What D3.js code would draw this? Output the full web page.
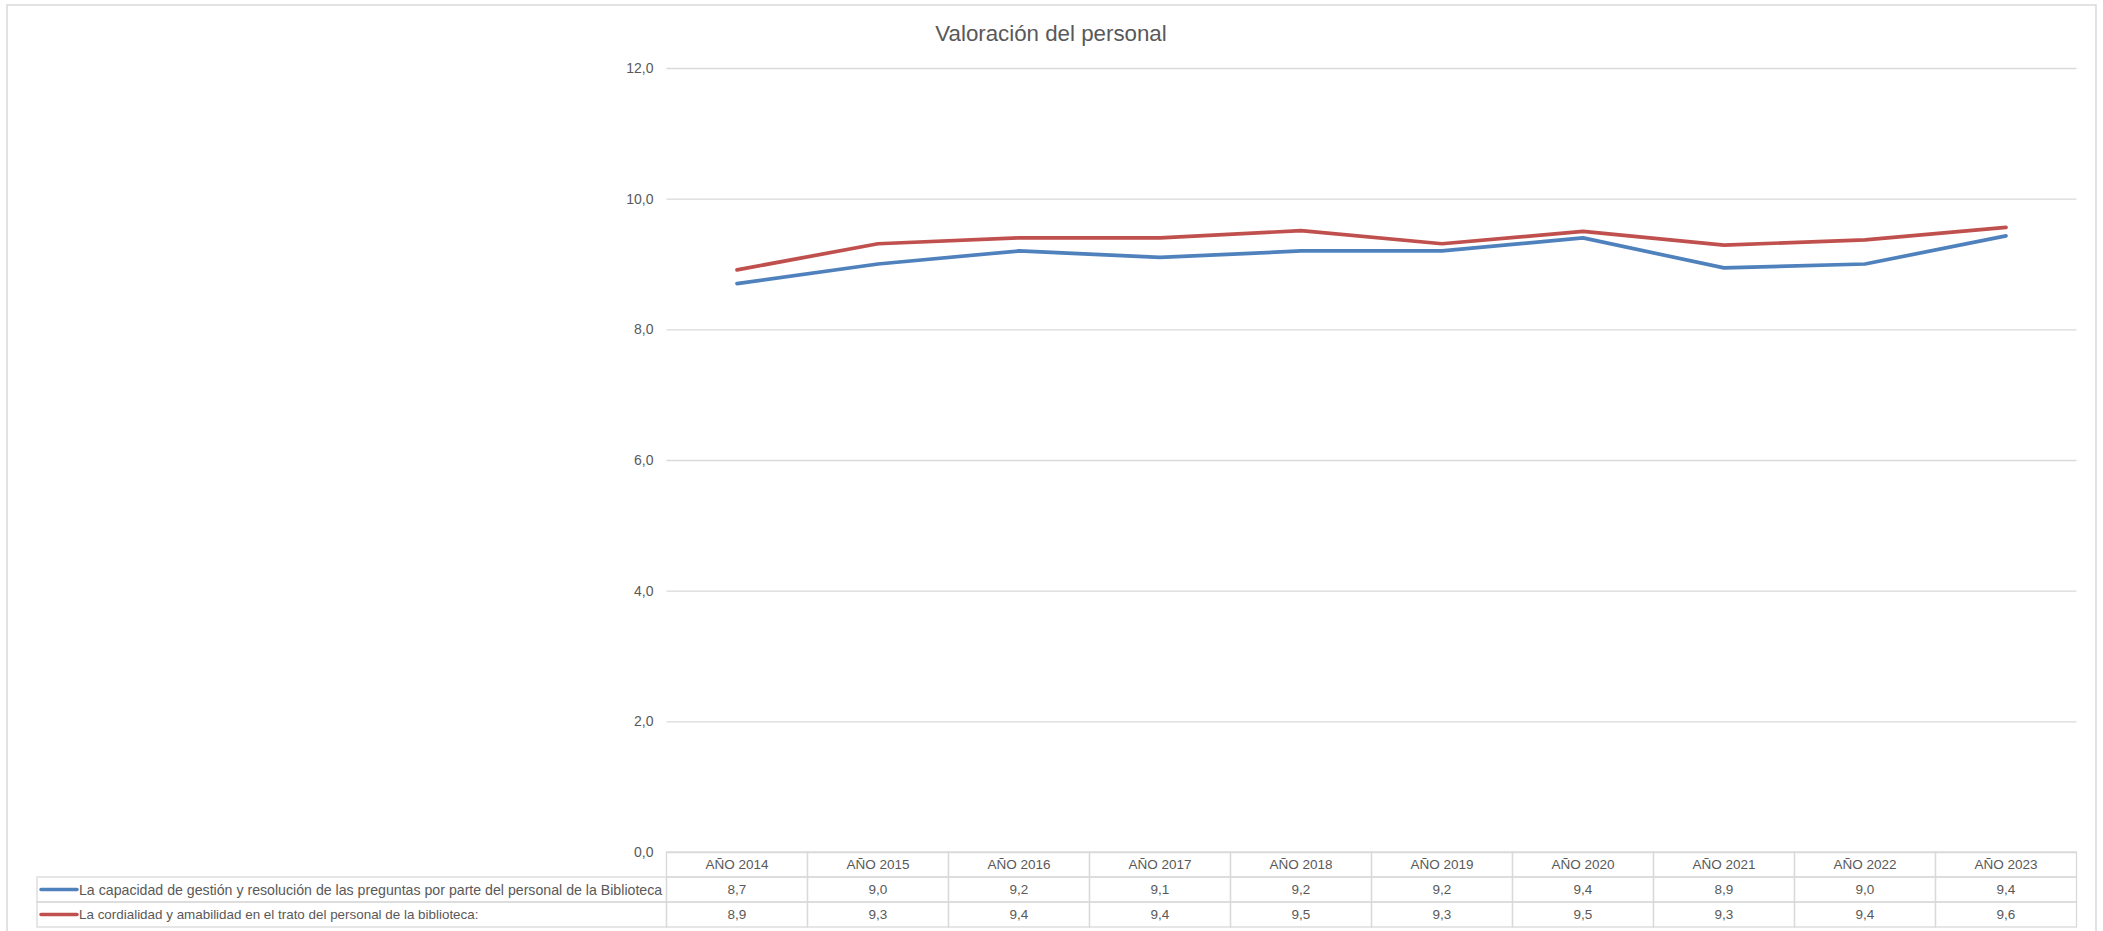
<!DOCTYPE html>
<html>
<head>
<meta charset="utf-8">
<script src="https://cdn.jsdelivr.net/npm/d3@7"></script>
<style>
  html, body { margin: 0; padding: 0; background: #fff; }
  svg { display: block; font-family: "Liberation Sans", Arial, sans-serif; }
</style>
</head>
<body>
<svg id="chart" width="2103" height="931"></svg>
<script>
// ---- data ----
const title = "Valoración del personal";
const categories = ["AÑO 2014","AÑO 2015","AÑO 2016","AÑO 2017","AÑO 2018","AÑO 2019","AÑO 2020","AÑO 2021","AÑO 2022","AÑO 2023"];
const seriesNames = [
  "La capacidad de gestión y resolución de las preguntas por parte del personal de la Biblioteca",
  "La cordialidad y amabilidad en el trato del personal de la biblioteca:"
];
const capacidadValues = [8.70, 9.00, 9.20, 9.10, 9.20, 9.20, 9.40, 8.94, 9.00, 9.43];
const cordialidadValues = [8.91, 9.31, 9.40, 9.40, 9.51, 9.31, 9.50, 9.29, 9.37, 9.56];
const yTicks = [0, 2, 4, 6, 8, 10, 12];
const seriesColors = ["#4F81BD", "#C0504D"];

// ---- layout ----
const svg = d3.select("#chart");
const plotLeft = 666.5, plotRight = 2076.5, plotTop = 68, plotBottom = 852;
const rowH = 25;
const tableLeft = 37;
const textColor = "#595959";
const gridColor = "#D9D9D9";
const legendTargetWidths = [584, 400];

const x = d3.scaleBand().domain(categories).range([plotLeft, plotRight]).padding(0);
const y = d3.scaleLinear().domain([0, 12]).range([plotBottom, plotTop]);
const fmt = v => d3.format(".1f")(v).replace(".", ",");

// chart area border
svg.append("rect").attr("x", 7).attr("y", 5).attr("width", 2089).attr("height", 930)
  .attr("fill", "none").attr("stroke", gridColor).attr("stroke-width", 1.5);

// title
svg.append("text").attr("x", 1051).attr("y", 41).attr("text-anchor", "middle")
  .attr("font-size", 22.3).attr("fill", textColor).text(title);

// gridlines + y axis
const yAxis = d3.axisLeft(y).tickValues(yTicks).tickSize(-(plotRight - plotLeft)).tickPadding(13).tickFormat(fmt);
const gy = svg.append("g").attr("transform", `translate(${plotLeft},0)`).call(yAxis);
gy.select(".domain").remove();
gy.selectAll(".tick line").attr("stroke", gridColor).attr("stroke-width", 1.3);
gy.selectAll(".tick text").attr("fill", textColor).attr("font-size", 14)
  .attr("font-family", "Liberation Sans, Arial, sans-serif");

// lines
const allSeries = [capacidadValues, cordialidadValues];
const line = d3.line().x((d, i) => x(categories[i]) + x.bandwidth() / 2).y(d => y(d));
allSeries.forEach((vals, si) => {
  svg.append("path").datum(vals).attr("d", line).attr("fill", "none")
    .attr("stroke", seriesColors[si]).attr("stroke-width", 3.7)
    .attr("stroke-linejoin", "round").attr("stroke-linecap", "round");
});

// data table
const tbl = svg.append("g");
categories.forEach(c => {
  tbl.append("rect").attr("x", x(c)).attr("y", plotBottom).attr("width", x.bandwidth()).attr("height", rowH)
    .attr("fill", "none").attr("stroke", gridColor).attr("stroke-width", 1.3);
  tbl.append("text").attr("x", x(c) + x.bandwidth() / 2).attr("y", plotBottom + rowH / 2)
    .attr("dy", "0.36em").attr("text-anchor", "middle").attr("font-size", 13.5).attr("fill", textColor).text(c);
});
allSeries.forEach((vals, si) => {
  const ry = plotBottom + rowH * (si + 1);
  tbl.append("rect").attr("x", tableLeft).attr("y", ry).attr("width", plotLeft - tableLeft).attr("height", rowH)
    .attr("fill", "none").attr("stroke", gridColor).attr("stroke-width", 1.3);
  tbl.append("line").attr("x1", 41).attr("x2", 77).attr("y1", ry + rowH / 2).attr("y2", ry + rowH / 2)
    .attr("stroke", seriesColors[si]).attr("stroke-width", 3.5).attr("stroke-linecap", "round");
  const t = tbl.append("text").attr("x", 79).attr("y", ry + rowH / 2).attr("dy", "0.36em")
    .attr("font-size", 13.5).attr("fill", textColor).text(seriesNames[si]);
  const len = t.node().getComputedTextLength();
  t.attr("font-size", 13.5 * legendTargetWidths[si] / len);
  vals.forEach((v, i) => {
    const c = categories[i];
    tbl.append("rect").attr("x", x(c)).attr("y", ry).attr("width", x.bandwidth()).attr("height", rowH)
      .attr("fill", "none").attr("stroke", gridColor).attr("stroke-width", 1.3);
    tbl.append("text").attr("x", x(c) + x.bandwidth() / 2).attr("y", ry + rowH / 2).attr("dy", "0.36em")
      .attr("text-anchor", "middle").attr("font-size", 13.5).attr("fill", textColor).text(fmt(v));
  });
});
</script>
</body>
</html>
